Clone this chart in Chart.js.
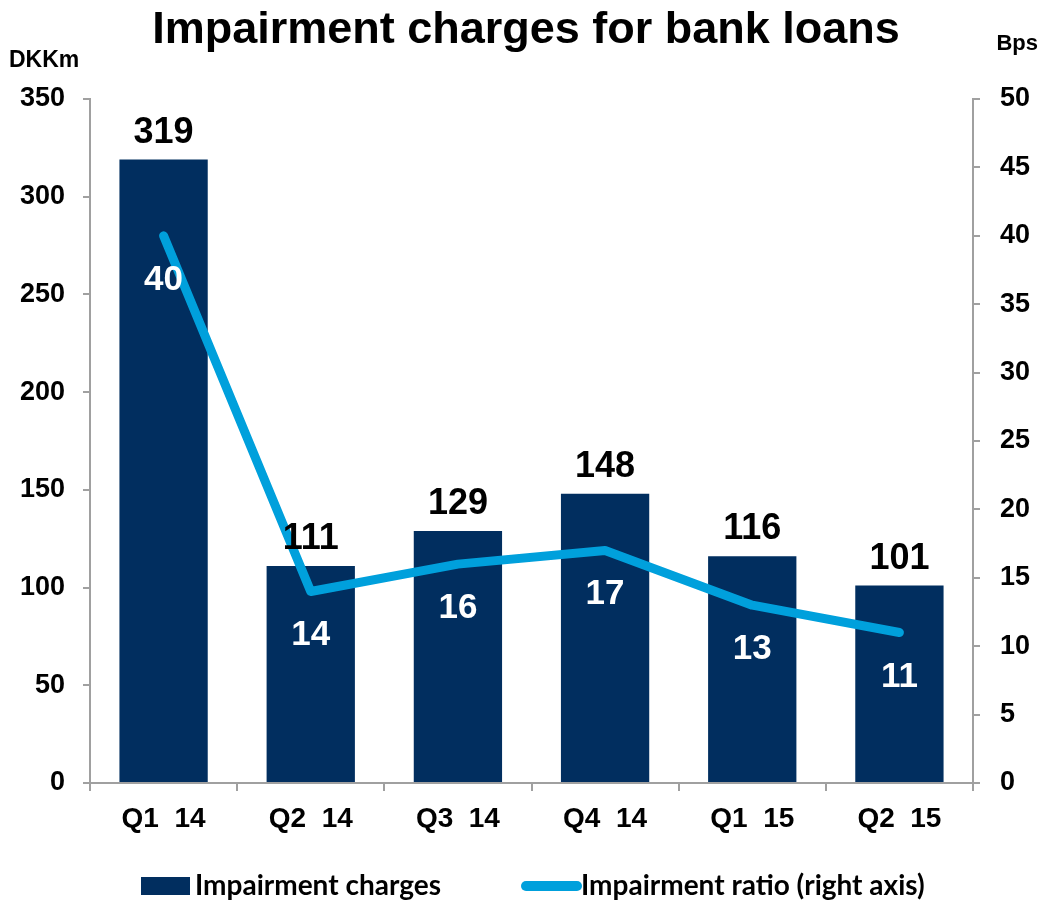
<!DOCTYPE html>
<html>
<head>
<meta charset="utf-8">
<script src="https://cdn.jsdelivr.net/npm/chart.js@4"></script>
<style>
  body { margin: 0; background: #fff; }
  canvas { display: block; }
</style>
</head>
<body>
<canvas id="impairment_canvas" width="1040" height="901"></canvas>
<script>
const quarters = ['Q1  14', 'Q2  14', 'Q3  14', 'Q4  14', 'Q1  15', 'Q2  15'];
const charges = [319, 111, 129, 148, 116, 101];     // DKKm
const ratio = [40, 14, 16, 17, 13, 11];              // bps, right axis
const leftTicks = { min: 0, max: 350, step: 50 };
const rightTicks = { min: 0, max: 50, step: 5 };

const NAVY = '#012E5F';
const SKY = '#00A0DC';
const AXIS_GREY = '#A0A0A0';
const ARIAL = "'Liberation Sans', Arial, sans-serif";
const LEGEND_FONT = "Lato, 'Open Sans', sans-serif";

// value labels: black above the bars, white under the line points
const valueLabels = {
    id: 'valueLabels',
    afterDatasetsDraw( chart )
    {
        const ctx = chart.ctx;
        ctx.save();
        ctx.textAlign = 'center';
        ctx.textBaseline = 'alphabetic';

        ctx.font = 'bold 36px ' + ARIAL;
        ctx.fillStyle = '#000';
        chart.getDatasetMeta(0).data.forEach(( bar, i ) =>
        {
            ctx.fillText( String(charges[i]), bar.x, bar.y - 17 );
        } );

        ctx.font = 'bold 35px ' + ARIAL;
        ctx.fillStyle = '#fff';
        chart.getDatasetMeta(1).data.forEach(( pt, i ) =>
        {
            ctx.fillText( String(ratio[i]), pt.x, pt.y + 54 );
        } );
        ctx.restore();
    }
};

// title, axis units and the legend row
const decorations = {
    id: 'decorations',
    afterDraw( chart )
    {
        const ctx = chart.ctx;
        ctx.save();
        ctx.fillStyle = '#000';
        ctx.textBaseline = 'alphabetic';

        ctx.font = 'bold 45px ' + ARIAL;
        ctx.textAlign = 'center';
        ctx.fillText( 'Impairment charges for bank loans', 526, 43 );

        ctx.font = 'bold 23px ' + ARIAL;
        ctx.textAlign = 'left';
        ctx.fillText( 'DKKm', 9, 67 );
        ctx.font = 'bold 22px ' + ARIAL;
        ctx.textAlign = 'right';
        ctx.fillText( 'Bps', 1038, 50 );

        // legend
        const ds = chart.data.datasets;
        const y = 886;
        ctx.font = 'bold 28px ' + LEGEND_FONT;
        ctx.textAlign = 'left';
        ctx.textBaseline = 'middle';

        ctx.fillStyle = ds[0].backgroundColor;
        ctx.fillRect( 141, y - 9, 49, 18 );
        ctx.fillStyle = '#000';
        ctx.fillText( ds[0].label, 195, y );

        ctx.strokeStyle = ds[1].borderColor;
        ctx.lineWidth = 10;
        ctx.lineCap = 'round';
        ctx.beginPath();
        ctx.moveTo( 526, y );
        ctx.lineTo( 577, y );
        ctx.stroke();
        ctx.fillText( ds[1].label, 581, y );
        ctx.restore();
    }
};

const axisGrid = {
    display: true,
    drawOnChartArea: false,
    drawTicks: true,
    color: AXIS_GREY,
    lineWidth: 2
};

new Chart( document.getElementById('impairment_canvas'), {
    type: 'bar',
    data: {
        labels: quarters,
        datasets: [
            {
                label: 'Impairment charges',
                data: charges,
                backgroundColor: NAVY,
                borderWidth: 0,
                barPercentage: 0.6,
                categoryPercentage: 1.0,
                yAxisID: 'y',
                order: 1
            },
            {
                type: 'line',
                label: 'Impairment ratio (right axis)',
                data: ratio,
                borderColor: SKY,
                backgroundColor: SKY,
                borderWidth: 9,
                borderCapStyle: 'round',
                borderJoinStyle: 'round',
                pointRadius: 0,
                tension: 0,
                yAxisID: 'y1',
                order: 0
            }
        ]
    },
    options: {
        responsive: false,
        animation: false,
        layout: { padding: { top: 99, left: 0, right: 0, bottom: 0 } },
        plugins: {
            legend: { display: false },
            tooltip: { enabled: false }
        },
        scales: {
            x: {
                offset: true,
                grid: { ...axisGrid, offset: true, tickLength: 8 },
                border: { color: AXIS_GREY, width: 2 },
                ticks: {
                    color: '#000',
                    font: { family: ARIAL, size: 28, weight: 'bold' },
                    padding: 11,
                    maxRotation: 0
                },
                afterFit: ( scale ) => { scale.height = 118; }
            },
            y: {
                position: 'left',
                min: leftTicks.min,
                max: leftTicks.max,
                grid: { ...axisGrid, tickLength: 7 },
                border: { color: AXIS_GREY, width: 2 },
                ticks: {
                    stepSize: leftTicks.step,
                    color: '#000',
                    font: { family: ARIAL, size: 27, weight: 'bold' },
                    padding: 18
                },
                afterFit: ( scale ) => { scale.width = 90; }
            },
            y1: {
                position: 'right',
                min: rightTicks.min,
                max: rightTicks.max,
                grid: { ...axisGrid, tickLength: 7 },
                border: { color: AXIS_GREY, width: 2 },
                ticks: {
                    stepSize: rightTicks.step,
                    color: '#000',
                    font: { family: ARIAL, size: 27, weight: 'bold' },
                    padding: 20
                },
                afterFit: ( scale ) => { scale.width = 67; }
            }
        }
    },
    plugins: [ valueLabels, decorations ]
} );
</script>
</body>
</html>
